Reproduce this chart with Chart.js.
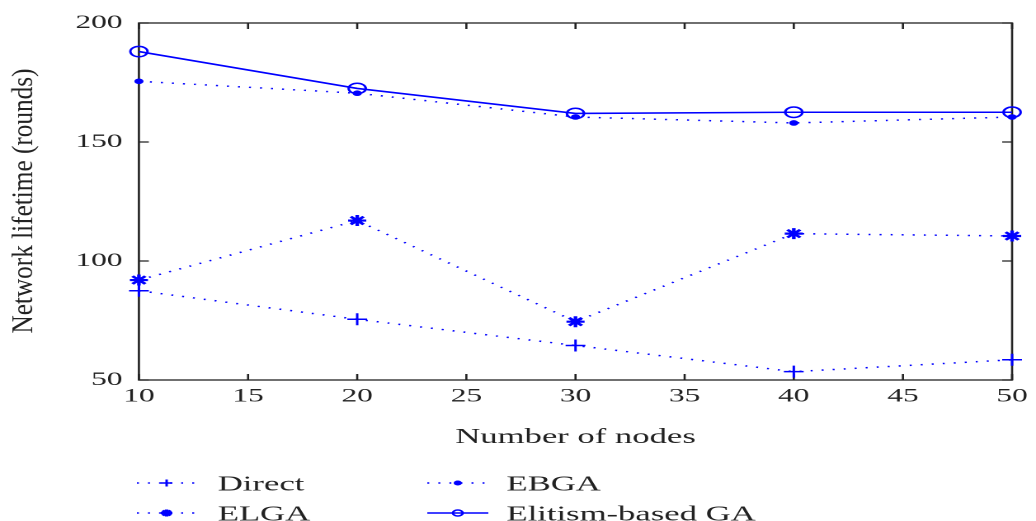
<!DOCTYPE html>
<html>
<head>
<meta charset="utf-8">
<script src="https://cdn.jsdelivr.net/npm/chart.js@4/dist/chart.umd.min.js"></script>
<style>
    body { margin: 0; background: #fff; }
</style>
</head>
<body>
<!-- the source figure is stretched sideways, so the canvas is drawn narrow and widened by css -->
<canvas id="lifetimeChart" width="628" height="521" style="width:1036px;height:521px;display:block"></canvas>
<script>
// Values
const nodes = [10, 20, 30, 40, 50];
const direct = [87.5, 75.5, 64.5, 53.5, 58.5];
const elga = [92, 117, 74.5, 111.5, 110.5];
const ebga = [175.5, 170.5, 160.5, 158, 160.5];
const elitism = [188, 172.5, 162, 162.5, 162.5];

const xTicks = [10, 15, 20, 25, 30, 35, 40, 45, 50];
const yTicks = [50, 100, 150, 200];

const blue = '#0000ff';
const ink = '#222';
const serif = "'Liberation Serif', 'Times New Roman', serif";
const dots = [1.2, 5.5];

function points(values) {
    return nodes.map((n, i) => ({ x: n, y: values[i] }));
}

// box round the plot with inward tick marks on all four sides
const frame = {
    id: 'frame',
    beforeDatasetsDraw(chart) {
        const { ctx, chartArea: a, scales } = chart;
        const len = 6;
        ctx.save();
        ctx.strokeStyle = ink;
        ctx.lineWidth = 1.3;
        ctx.strokeRect(a.left, a.top, a.right - a.left, a.bottom - a.top);
        ctx.beginPath();
        scales.x.ticks.forEach(t => {
            const px = scales.x.getPixelForValue(t.value);
            ctx.moveTo(px, a.bottom); ctx.lineTo(px, a.bottom - len);
            ctx.moveTo(px, a.top); ctx.lineTo(px, a.top + len);
        });
        scales.y.ticks.forEach(t => {
            const py = scales.y.getPixelForValue(t.value);
            ctx.moveTo(a.left, py); ctx.lineTo(a.left + len, py);
            ctx.moveTo(a.right, py); ctx.lineTo(a.right - len, py);
        });
        ctx.stroke();
        ctx.restore();
    }
};

// y title, drawn narrow and long like in the figure
const yTitle = {
    id: 'yTitle',
    afterDraw(chart) {
        const { ctx } = chart;
        const text = 'Network lifetime (rounds)';
        ctx.save();
        ctx.font = '18px ' + serif;
        ctx.fillStyle = ink;
        ctx.translate(15, 201);
        ctx.rotate(-Math.PI / 2);
        const w = ctx.measureText(text).width;
        ctx.scale(265 / w, 1);
        ctx.textAlign = 'center';
        ctx.textBaseline = 'middle';
        ctx.fillText(text, 0, 0);
        ctx.restore();
    }
};

// two column legend under the axis title
const legendBox = {
    id: 'legendBox',
    afterDraw(chart) {
        const { ctx } = chart;
        const cols = [{ x1: 83, x2: 119, tx: 132 }, { x1: 259, x2: 296, tx: 307 }];
        const rows = [483, 513];
        const place = [[0, 0], [0, 1], [1, 0], [1, 1]]; // [col, row] per dataset
        chart.data.datasets.forEach((ds, i) => {
            const c = cols[place[i][0]];
            const y = rows[place[i][1]];
            ctx.save();
            ctx.strokeStyle = blue;
            ctx.lineWidth = ds.borderWidth;
            ctx.setLineDash(ds.borderDash || []);
            ctx.beginPath();
            ctx.moveTo(c.x1, y);
            ctx.lineTo(c.x2, y);
            ctx.stroke();
            ctx.setLineDash([]);
            ctx.fillStyle = ds.pointBackgroundColor;
            ctx.strokeStyle = blue;
            ctx.lineWidth = ds.pointBorderWidth;
            Chart.helpers.drawPoint(ctx, {
                pointStyle: ds.pointStyle,
                radius: ds.legendRadius,
                borderWidth: ds.pointBorderWidth,
                rotation: 0
            }, (c.x1 + c.x2) / 2, y);
            ctx.font = '21px ' + serif;
            ctx.fillStyle = ink;
            ctx.textBaseline = 'middle';
            ctx.fillText(ds.label, c.tx, y + 2);
            ctx.restore();
        });
    }
};

const chart = new Chart(document.getElementById('lifetimeChart'), {
    type: 'line',
    data: {
        datasets: [{
            label: 'Direct',
            data: points(direct),
            borderColor: blue,
            borderWidth: 1.5,
            borderDash: dots,
            pointStyle: 'cross',
            pointRadius: 6,
            legendRadius: 3.5,
            pointBorderWidth: 1.5,
            pointBorderColor: blue,
            pointBackgroundColor: blue
        }, {
            label: 'ELGA',
            data: points(elga),
            borderColor: blue,
            borderWidth: 1.5,
            borderDash: dots,
            pointStyle: 'star',
            pointRadius: 5.5,
            legendRadius: 3.5,
            pointBorderWidth: 2.2,
            pointBorderColor: blue,
            pointBackgroundColor: blue
        }, {
            label: 'EBGA',
            data: points(ebga),
            borderColor: blue,
            borderWidth: 1.5,
            borderDash: dots,
            pointStyle: 'circle',
            pointRadius: 2.3,
            legendRadius: 2,
            pointBorderWidth: 1,
            pointBorderColor: blue,
            pointBackgroundColor: blue
        }, {
            label: 'Elitism-based GA',
            data: points(elitism),
            borderColor: blue,
            borderWidth: 1.6,
            pointStyle: 'circle',
            pointRadius: 5.2,
            legendRadius: 3,
            pointBorderWidth: 1.5,
            pointBorderColor: blue,
            pointBackgroundColor: 'rgba(255,255,255,0)'
        }]
    },
    options: {
        responsive: false,
        devicePixelRatio: 2,
        animation: false,
        events: [],
        clip: false,
        layout: { padding: { left: 0, right: 10.4, top: 23, bottom: 0 } },
        plugins: {
            legend: { display: false },
            tooltip: { enabled: false }
        },
        scales: {
            x: {
                type: 'linear',
                min: 10,
                max: 50,
                afterBuildTicks: s => { s.ticks = xTicks.map(v => ({ value: v })); },
                afterFit: s => { s.height = 141; },
                grid: { display: false, drawTicks: false },
                border: { display: false },
                ticks: { color: ink, padding: 5, font: { family: serif, size: 19 } },
                title: {
                    display: true,
                    text: 'Number of nodes',
                    color: ink,
                    font: { family: serif, size: 21 },
                    padding: { top: 0, bottom: 71 }
                }
            },
            y: {
                min: 50,
                max: 200,
                afterBuildTicks: s => { s.ticks = yTicks.map(v => ({ value: v })); },
                afterFit: s => { s.width = 84.2; },
                grid: { display: false, drawTicks: false },
                border: { display: false },
                ticks: { color: ink, padding: 10, font: { family: serif, size: 19 } }
            }
        }
    },
    plugins: [frame, yTitle, legendBox]
});
</script>
</body>
</html>
